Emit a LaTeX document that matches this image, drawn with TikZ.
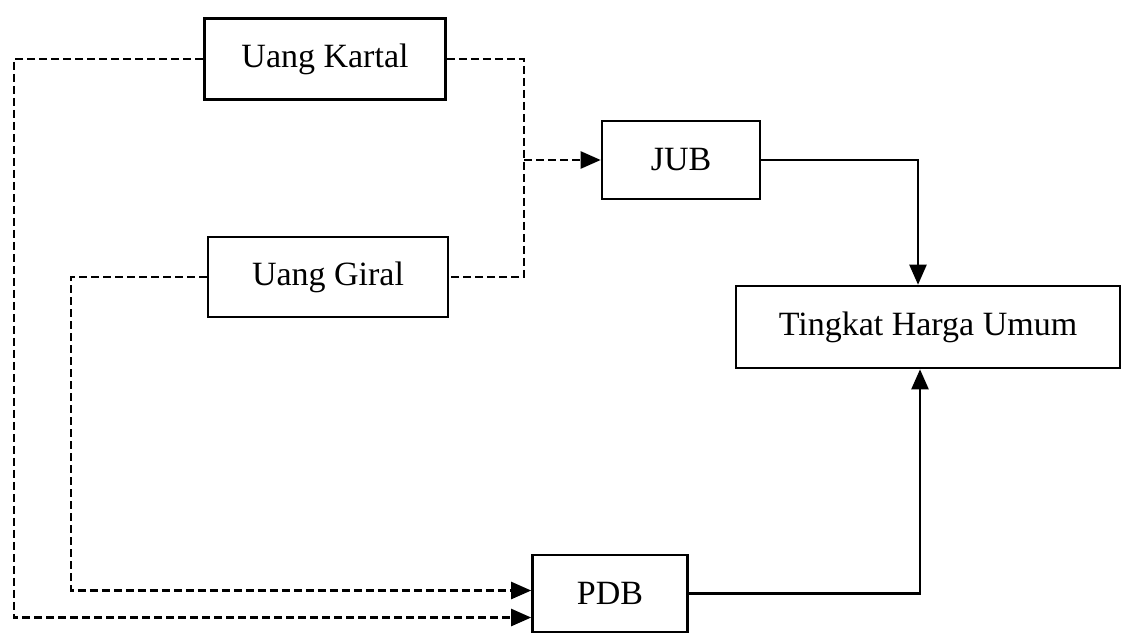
\documentclass[tikz,border=0pt]{standalone}
\usepackage{fontspec}
\setmainfont{Liberation Serif}
\usetikzlibrary{arrows.meta}
\begin{document}
\begin{tikzpicture}[x=1pt,y=-1pt,
  box/.style={draw, line width=2.6pt, inner sep=0pt, font=\fontsize{34}{40}\selectfont},
  conn/.style={line width=2.4pt},
  dsh/.style={conn, dash pattern=on 8pt off 4pt},
  tip/.style={-{Triangle[length=20pt,width=17pt]}}]
\useasboundingbox (0,0) rectangle (1123,633);
\node[box, minimum width=241pt, minimum height=81pt] (kartal) at (325,59) {Uang Kartal};
\node[box, minimum width=158pt, minimum height=78pt] (jub) at (681,160) {JUB};
\node[box, minimum width=240pt, minimum height=80pt] (giral) at (328,277) {Uang Giral};
\node[box, minimum width=384pt, minimum height=82pt] (thu) at (928,327) {Tingkat Harga Umum};
\node[box, minimum width=155pt, minimum height=77pt] (pdb) at (610,593.5) {PDB};
\coordinate (junc) at (524,160);
\coordinate (oL) at (14,617.5);
\coordinate (iL) at (71,590.5);
\draw[dsh] (kartal.east) -| (junc) |- (giral.east);
\draw[dsh,tip] (junc) -- (jub.west);
\draw[dsh,tip] (kartal.west) -| (oL) -- ([yshift=-24pt]pdb.west);
\draw[dsh,tip] (giral.west) -| (iL) -- ([yshift=3pt]pdb.west);
\draw[conn,tip] (jub.east) -| ([xshift=-10pt]thu.north);
\draw[conn,tip] (pdb.east) -| ([xshift=-8pt]thu.south);
\end{tikzpicture}
\end{document}
